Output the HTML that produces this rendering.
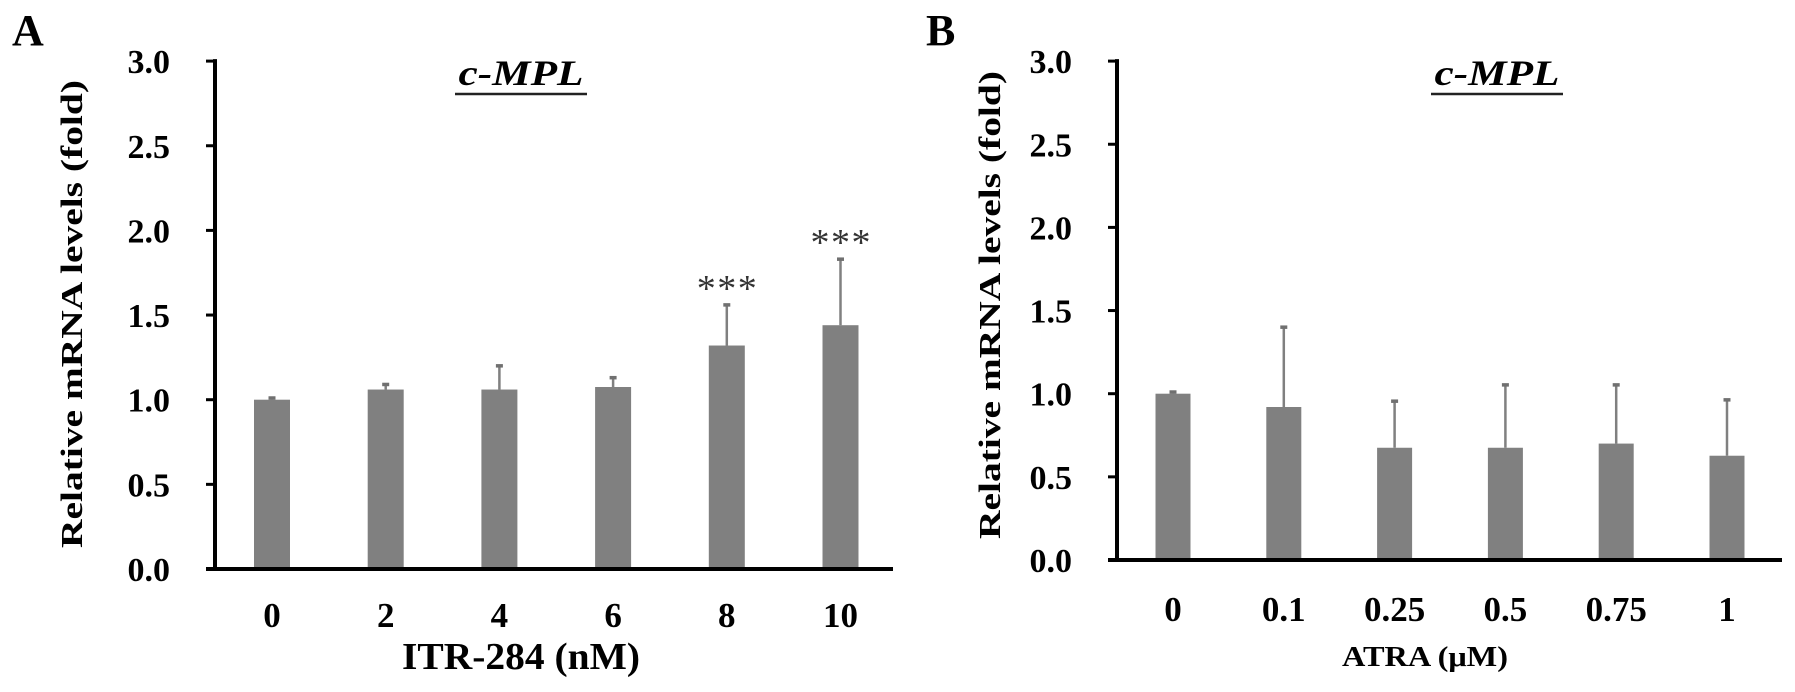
<!DOCTYPE html>
<html><head><meta charset="utf-8"><style>
html,body{margin:0;padding:0;background:#fff;}
svg{display:block;font-family:"Liberation Serif",serif;}
</style></head><body>
<svg id="chart" width="1795" height="692" viewBox="0 0 1795 692" xmlns="http://www.w3.org/2000/svg"></svg>
<script>
const yTicks = [0, 0.5, 1.0, 1.5, 2.0, 2.5, 3.0];
const yTickLabels = ["0.0", "0.5", "1.0", "1.5", "2.0", "2.5", "3.0"];
const catsA = ["0", "2", "4", "6", "8", "10"];
const valsA = [1.0, 1.06, 1.06, 1.075, 1.32, 1.44];
const errA = [0.01, 0.03, 0.14, 0.055, 0.24, 0.39];
const starsA = ["", "", "", "", "***", "***"];
const catsB = ["0", "0.1", "0.25", "0.5", "0.75", "1"];
const valsB = [1.0, 0.92, 0.675, 0.675, 0.70, 0.627];
const errB = [0.01, 0.48, 0.28, 0.378, 0.353, 0.336];

const NS = "http://www.w3.org/2000/svg";
const svg = document.getElementById("chart");
function mk(tag, attrs, parent) {
  const e = document.createElementNS(NS, tag);
  for (const k in attrs) e.setAttribute(k, attrs[k]);
  (parent || svg).appendChild(e);
  return e;
}

function panel(p) {
  const g = mk("g", {});
  
  
  const y = v => p.y0 - v * p.unit;
  const x = i => p.x0 + i * p.step;

  const letter = mk("text", {x: p.lx, y: 45, "font-size": 44, "font-weight": "bold"}, g);
  letter.textContent = p.letter;
  
  

  const t = mk("text", {x: p.tx, y: 85, "font-size": 36, "font-weight": "bold", "font-style": "italic", "text-anchor": "middle", textLength: 125, lengthAdjust: "spacingAndGlyphs"}, g);
  t.textContent = "c-MPL";
  
  
  const ul = mk("line", {x1: p.tx - 66, x2: p.tx + 66, y1: 94, y2: 94, stroke: "#222", "stroke-width": 2.5}, g);
  
  

  p.vals.forEach((v, i) => {
    const cx = x(i);
    const b = mk("rect", {x: cx - p.bw / 2, y: y(v), width: p.bw, height: p.y0 - y(v), fill: "#808080"}, g);
    
    
    const e = mk("line", {x1: cx, x2: cx, y1: y(v), y2: y(v + p.err[i]), stroke: "#808080", "stroke-width": 2.5}, g);
    
    
    const c = mk("line", {x1: cx - 3.5, x2: cx + 3.5, y1: y(v + p.err[i]), y2: y(v + p.err[i]), stroke: "#707070", "stroke-width": 3.5}, g);
    
    
    if (p.stars && p.stars[i]) {
      const s = mk("text", {x: cx, y: y(v + p.err[i]) - 4, "font-size": 38, "text-anchor": "middle", fill: "#333", textLength: 60, lengthAdjust: "spacing"}, g);
      s.textContent = p.stars[i];
      
      
    }
    const lab = mk("text", {x: cx, y: p.y0 + p.labDy, "font-size": 35, "font-weight": "bold", "text-anchor": "middle"}, g);
    lab.textContent = p.cats[i];
    
    
  });

  const ya = mk("line", {x1: p.ax, x2: p.ax, y1: y(3) - 2, y2: p.y0 + 2, stroke: "#000", "stroke-width": 4}, g);
  
  
  const xa = mk("line", {x1: p.ax - 9, x2: p.axEnd, y1: p.y0, y2: p.y0, stroke: "#000", "stroke-width": 4}, g);
  
  
  yTicks.forEach((v, i) => {
    const tk = mk("line", {x1: p.ax - 9, x2: p.ax, y1: y(v), y2: y(v), stroke: "#000", "stroke-width": 3}, g);
    
    
    const tl = mk("text", {x: p.ax - 45, y: y(v) + 12, "font-size": 34, "font-weight": "bold", "text-anchor": "end"}, g);
    tl.textContent = yTickLabels[i];
    
    
  });

  const yt = mk("text", {x: 0, y: 0, "font-size": 31, "font-weight": "bold", "text-anchor": "middle",
    transform: "translate(" + p.ytx + "," + (p.y0 - 255) + ") rotate(-90)", textLength: 468, lengthAdjust: "spacingAndGlyphs"}, g);
  yt.textContent = "Relative mRNA levels (fold)";
  
  

  const xt = mk("text", {x: p.xtx, y: p.xty, "font-size": p.xtfs, "font-weight": "bold", "text-anchor": "middle", textLength: p.xtw, lengthAdjust: "spacingAndGlyphs"}, g);
  xt.textContent = p.xtitle;
  
  
}

panel({name: "panel-a", letter: "A", lx: 12, tx: 521, x0: 272, step: 113.7, bw: 36, y0: 569, unit: 169.3,
  ax: 215, axEnd: 893, vals: valsA, err: errA, cats: catsA, stars: starsA, ytx: 82, labDy: 58,
  xtitle: "ITR-284 (nM)", xtx: 521, xty: 669, xtfs: 38, xtw: 238});
panel({name: "panel-b", letter: "B", lx: 926, tx: 1497, x0: 1173, step: 110.8, bw: 35, y0: 560, unit: 166.3,
  ax: 1117, axEnd: 1782, vals: valsB, err: errB, cats: catsB, stars: null, ytx: 1000, labDy: 61,
  xtitle: "ATRA (μM)", xtx: 1425, xty: 666, xtfs: 28, xtw: 166});
</script>
</body></html>
